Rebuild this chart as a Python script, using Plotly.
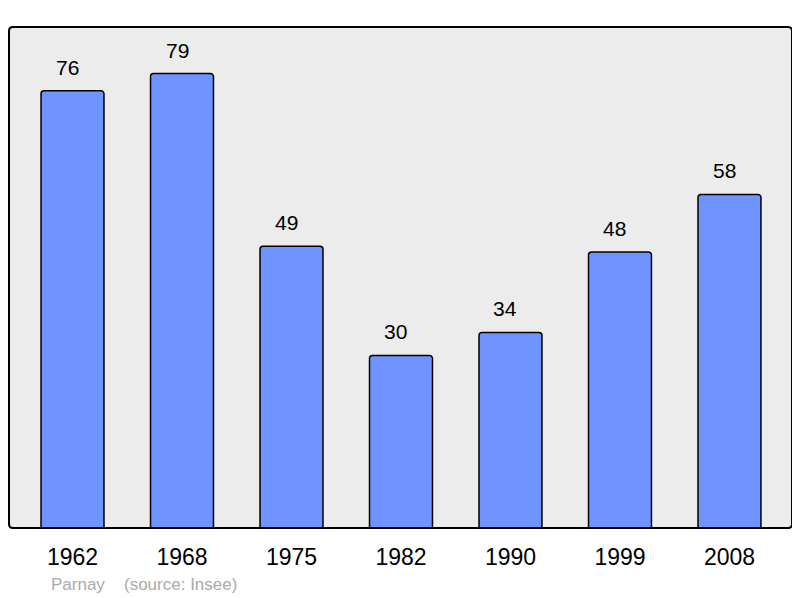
import plotly.graph_objects as go

years = ["1962", "1968", "1975", "1982", "1990", "1999", "2008"]
population = [76, 79, 49, 30, 34, 48, 58]
commune = "Parnay"
source = "(source: Insee)"

# page has an 8px body margin; compensate so the chart lands on the 800x598 window
OFF = 8
W, H = 800 - OFF, 598 - OFF
L, T = 9 - OFF, 27 - OFF
R = W - (792 - OFF)
B = H - (528 - OFF)
FONT = "Liberation Sans, Arial, sans-serif"

fig = go.Figure()
fig.add_trace(go.Bar(
    x=list(range(len(years))), y=population,
    width=0.575,
    marker=dict(color="#7094ff", line=dict(color="black", width=1.5), cornerradius=3),
    hoverinfo="skip",
))

for i, v in enumerate(population):
    fig.add_annotation(x=i, y=v, text=str(v), showarrow=False, yanchor="bottom",
                       yshift=10, xshift=-5, font=dict(size=21, color="black", family=FONT))

pw = W - L - R
ph = H - T - B
rx = 4 / pw
ry = 4 / ph
path = (f"M {rx},0 L {1-rx},0 Q 1,0 1,{ry} L 1,{1-ry} Q 1,1 {1-rx},1 "
        f"L {rx},1 Q 0,1 0,{1-ry} L 0,{ry} Q 0,0 {rx},0 Z")
fig.add_shape(type="path", xref="paper", yref="paper", path=path,
              line=dict(color="black", width=2), layer="above")

fy = (528 - 584) / ph
fig.add_annotation(xref="paper", yref="paper", x=(49 - 9) / pw, y=fy,
                   xanchor="left", yanchor="middle", text=commune, showarrow=False,
                   font=dict(size=17, color="#aaaaaa", family=FONT))
fig.add_annotation(xref="paper", yref="paper", x=(122 - 9) / pw, y=fy,
                   xanchor="left", yanchor="middle", text=source, showarrow=False,
                   font=dict(size=17, color="#aaaaaa", family=FONT))

fig.update_layout(
    width=W, height=H,
    margin=dict(l=L, r=R, t=T, b=B, pad=0),
    paper_bgcolor="white", plot_bgcolor="#ececec",
    showlegend=False,
    font=dict(family=FONT),
    xaxis=dict(range=[-0.58, 6.571], tickmode="array", tickvals=list(range(len(years))),
               ticktext=years, showgrid=False, zeroline=False, ticks="",
               tickfont=dict(size=23, color="black"), ticklabelstandoff=13, fixedrange=True),
    yaxis=dict(range=[0, 87.1], visible=False, showgrid=False, zeroline=False, fixedrange=True),
)

fig.write_html("out.html")
